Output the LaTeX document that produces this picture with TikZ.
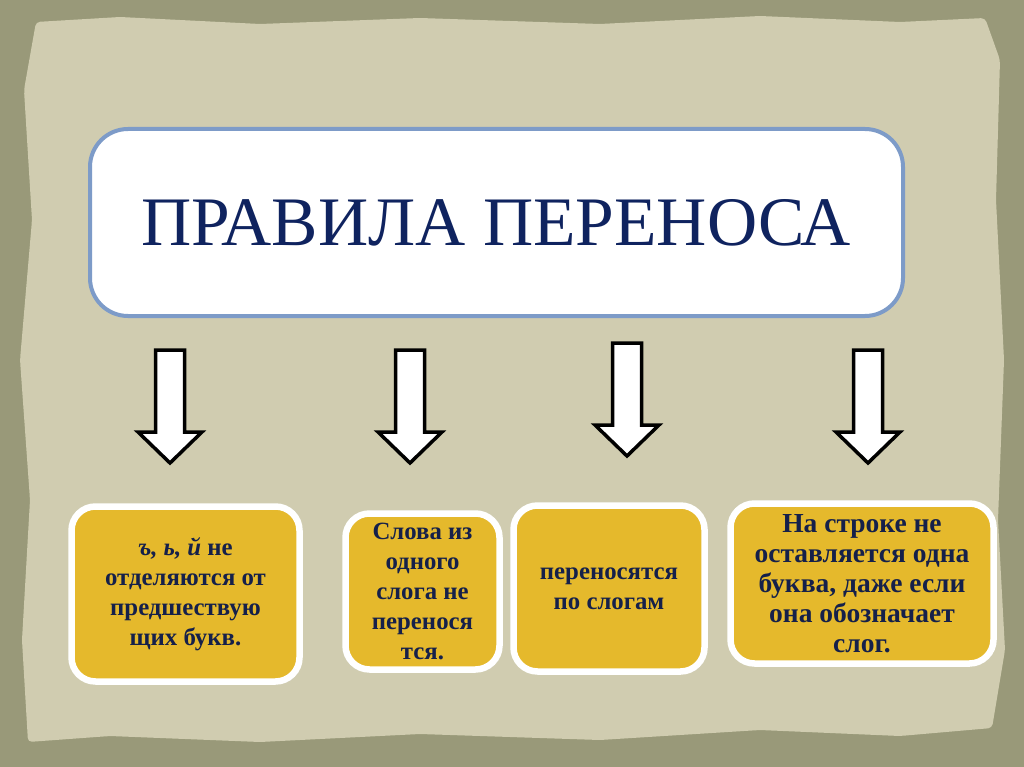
\documentclass[tikz,border=0pt]{standalone}
\usepackage{fontspec}
\setmainfont{Liberation Serif}
\usetikzlibrary{shadows}

\definecolor{frameolive}{HTML}{999979}
\definecolor{paper}{HTML}{D0CCB0}
\definecolor{gold}{HTML}{E5B92C}
\definecolor{navy}{HTML}{0F235F}
\definecolor{inkblue}{HTML}{15204A}
\definecolor{edgeblue}{HTML}{7D9BC8}

\newcommand{\downblock}[3]{%
  \draw[blockarrow] (#1-14.5,#2) -- (#1+14.5,#2) -- (#1+14.5,#3-31)
    -- (#1+32,#3-31) -- (#1,#3) -- (#1-32,#3-31) -- (#1-14.5,#3-31) -- cycle;}

\begin{document}
\begin{tikzpicture}[x=1pt, y=-1pt,
  titlebox/.style={draw=edgeblue, line width=4pt, fill=white, rounded corners=38pt,
    minimum width=813pt, minimum height=187pt, text=navy,
    font=\fontsize{69.5}{72}\selectfont},
  rulebox/.style={draw=white, line width=6.5pt, fill=gold, rounded corners=24pt,
    align=center, text=inkblue, inner sep=2pt,
    font=\bfseries\fontsize{24.8}{30}\selectfont,
    drop shadow={shadow xshift=2pt, shadow yshift=-2.5pt, opacity=0.25}},
  blockarrow/.style={draw=black, line width=3.5pt, fill=white, line join=miter}]
% фон
\useasboundingbox (0,0) rectangle (1024,767);
\fill[frameolive] (0,0) rectangle (1024,767);
\fill[paper, rounded corners=4pt] (36,22) -- (120,17) -- (260,24) -- (420,18) -- (600,24)
  -- (760,16) -- (900,22) -- (985,18) -- (1000,60) -- (996,200) -- (1004,360)
  -- (998,520) -- (1005,650) -- (992,728) -- (900,736) -- (760,730) -- (600,740)
  -- (420,734) -- (260,742) -- (110,736) -- (28,742) -- (22,640) -- (30,500)
  -- (20,360) -- (32,220) -- (24,90) -- cycle;

% заголовок
\node[titlebox] (title) at (496.5,222.5) {ПРАВИЛА ПЕРЕНОСА};

% стрелки
\downblock{170}{350}{463}
\downblock{410}{350}{463}
\downblock{627}{343}{456}
\downblock{868}{350}{463}

% правила
\node[rulebox, minimum width=228pt, minimum height=175pt] (ruleA) at (185.5,594)
  {\textit{ъ, ь, й} не\\отделяются от\\предшествую\\щих букв.};
\node[rulebox, minimum width=154pt, minimum height=156pt] (ruleB) at (422.5,591.5)
  {Слова из\\одного\\слога не\\перенося\\тся.};
\node[rulebox, minimum width=191pt, minimum height=166pt] (ruleC) at (609,588.5)
  {переносятся\\по слогам};
\node[rulebox, minimum width=263pt, minimum height=160pt,
  font=\bfseries\fontsize{27.5}{30}\selectfont] (ruleD) at (862,583.5)
  {На строке не\\оставляется одна\\буква, даже если\\она обозначает\\слог.};
\end{tikzpicture}
\end{document}
